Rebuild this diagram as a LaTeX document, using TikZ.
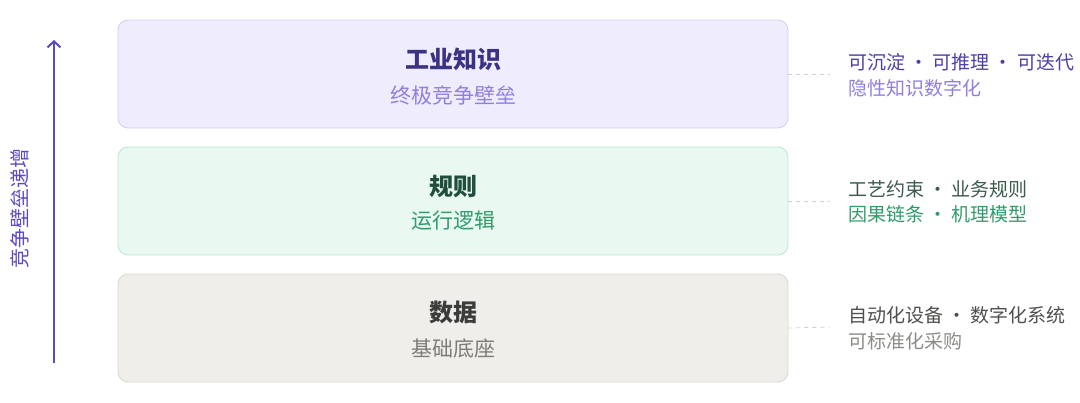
\documentclass[tikz,border=0pt]{standalone}
\usepackage{fontspec}
\setmainfont{Noto Sans CJK SC}
\usetikzlibrary{positioning,arrows.meta}
\definecolor{kfill}{HTML}{EFECFE}
\definecolor{kline}{HTML}{D3CCF5}
\definecolor{ktitle}{HTML}{3A3282}
\definecolor{ksub}{HTML}{8E80DE}
\definecolor{knote}{HTML}{4B40A6}
\definecolor{rfill}{HTML}{E9F8F1}
\definecolor{rline}{HTML}{B8E8D2}
\definecolor{rtitle}{HTML}{1F4F3B}
\definecolor{rsub}{HTML}{2E9C6A}
\definecolor{rnote}{HTML}{3B5A4C}
\definecolor{dfill}{HTML}{EFEEEA}
\definecolor{dline}{HTML}{D8D6D0}
\definecolor{dtitle}{HTML}{3C3C3A}
\definecolor{dsub}{HTML}{7D7C78}
\definecolor{dnote}{HTML}{4F4F4D}
\definecolor{dnote2}{HTML}{8B8A87}
\definecolor{axis}{HTML}{5A4BBF}
\definecolor{link}{HTML}{CFCFCF}

\begin{document}
\begin{tikzpicture}[x=1pt,y=-1pt,>={Straight Barb[length=6pt,width=13pt]},
    layer/.style={draw, line width=0.8pt, rounded corners=10pt,
      minimum width=670pt, minimum height=108pt},
    title/.style={inner sep=0pt, font=\fontsize{24pt}{28pt}\selectfont\bfseries},
    sub/.style={inner sep=0pt, font=\fontsize{21pt}{25pt}\selectfont},
    note/.style={inner sep=0pt, anchor=west, font=\fontsize{19pt}{23pt}\selectfont},
    dashlink/.style={draw=link, dash pattern=on 4pt off 4pt, line width=0.8pt},
  ]
    \useasboundingbox (0,0) rectangle (1080,402);
    % three layers, bottom up
    \node[layer, fill=dfill, draw=dline] (data) at (453,328) {};
    \node[layer, fill=rfill, draw=rline] (rule) at (453,201) {};
    \node[layer, fill=kfill, draw=kline] (know) at (453,74) {};
    \node[title, text=ktitle] (knowt) at (453,59) {工业知识};
    \node[sub, text=ksub] (knows) at (453,95) {终极竞争壁垒};
    \node[title, text=rtitle] (rulet) at (453,187) {规则};
    \node[sub, text=rsub] (rules) at (453,221) {运行逻辑};
    \node[title, text=dtitle] (datat) at (453,312) {数据};
    \node[sub, text=dsub] (datas) at (453,348) {基础底座};
    % side notes
    \node[note, text=knote] (knowa) at (848,62) {可沉淀 · 可推理 · 可迭代};
    \node[note, text=ksub] (knowb) at (848,88) {隐性知识数字化};
    \node[note, text=rnote] (rulea) at (848,189) {工艺约束 · 业务规则};
    \node[note, text=rsub] (ruleb) at (848,214) {因果链条 · 机理模型};
    \node[note, text=dnote] (dataa) at (848,315) {自动化设备 · 数字化系统};
    \node[note, text=dnote2] (datab) at (848,341) {可标准化采购};
    \coordinate (knowd) at (830,74);
    \coordinate (ruled) at (830,201);
    \coordinate (datad) at (830,327);
    \draw[dashlink] (know.east) -- (knowd);
    \draw[dashlink] (rule.east) -- (ruled);
    \draw[dashlink] (data.east) -- (datad);
    % axis
    \coordinate (low) at (54,363);
    \coordinate (high) at (54,40);
    \draw[->, draw=axis, line width=2pt] (low) -- (high);
    \node[sub, text=axis, rotate=90, font=\fontsize{20pt}{24pt}\selectfont] (axist) at (20,208) {竞争壁垒递增};
\end{tikzpicture}
\end{document}
